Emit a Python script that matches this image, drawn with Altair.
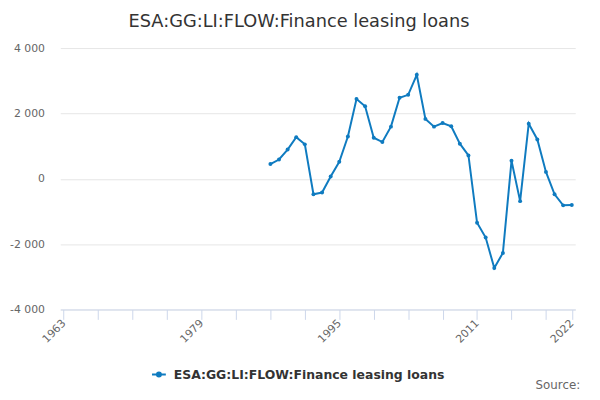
import altair as alt
import pandas as pd

series_name = "ESA:GG:LI:FLOW:Finance leasing loans"
years = list(range(1987, 2023))
values = [450, 590, 895, 1275, 1054, -473, -422, 70, 521, 1295,
          2440, 2220, 1256, 1124, 1596, 2480, 2570, 3184, 1833, 1596,
          1707, 1606, 1075, 714, -1346, -1798, -2732, -2268, 551, -684,
          1687, 1205, 211, -473, -813, -804]
x_ticks = list(range(1963, 2020, 4)) + [2022]
x_labels = [1963, 1979, 1995, 2011, 2022]
y_ticks = [-4000, -2000, 0, 2000, 4000]

BLUE = "#0f7bc0"

df = pd.DataFrame({"year": years, "value": values, "series": [series_name] * len(years)})

label_list = ",".join(str(v) for v in x_labels)

base = alt.Chart(df).encode(
    x=alt.X("year:Q",
            scale=alt.Scale(domain=[1962.6, 2022.4], nice=False, zero=False),
            axis=alt.Axis(values=x_ticks,
                          labelExpr=f"indexof([{label_list}], datum.value) >= 0 ? format(datum.value, 'd') : ''",
                          labelAngle=-45, labelAlign="right", labelBaseline="middle",
                          tickSize=10, labelPadding=2, tickColor="#ccd6eb", domainColor="#ccd6eb",
                          grid=False, title=None, labelColor="#666666", labelFontSize=11,
                          labelOverlap=False, labelFlush=False, labelBound=False)),
    y=alt.Y("value:Q",
            scale=alt.Scale(domain=[-4000, 4000], nice=False),
            axis=alt.Axis(values=y_ticks,
                          labelExpr="(datum.value < 0 ? '-' : '') + replace(format(abs(datum.value), ','), ',', ' ')",
                          domain=False, ticks=False, gridColor="#e6e6e6", title=None,
                          labelPadding=16, labelColor="#666666", labelFontSize=11)),
    color=alt.Color("series:N", scale=alt.Scale(range=[BLUE]),
                    legend=alt.Legend(title=None, orient="none", legendX=92, legendY=323,
                                      symbolType="M-1,0L1,0M-0.29,0A0.29,0.29 0 1,0 0.29,0A0.29,0.29 0 1,0 -0.29,0",
                                      symbolSize=196, symbolStrokeWidth=2, symbolFillColor=BLUE,
                                      labelFontWeight="bold", labelFontSize=12.6, labelColor="#333333",
                                      labelOffset=7, labelLimit=0, padding=0)),
)

line = base.mark_line(strokeWidth=2)
pts = base.mark_point(filled=True, size=16, opacity=1)

title_txt = alt.Chart(pd.DataFrame({"t": [series_name]})).mark_text(
    align="center", baseline="alphabetic", fontSize=18, color="#333333"
).encode(text="t:N", x=alt.value(242), y=alt.value(-21))

src = alt.Chart(pd.DataFrame({"t": ["Source:"]})).mark_text(
    align="right", baseline="alphabetic", fontSize=12, color="#666666"
).encode(text="t:N", x=alt.value(527), y=alt.value(346))

chart = alt.layer(line, pts, title_txt, src).properties(
    width=522, height=265,
    padding={"left": 53, "top": 38, "right": 17, "bottom": 81},
    autosize="none",
).configure(font="DejaVu Sans").configure_view(stroke=None)

chart.save("out.html", embed_options={"renderer": "svg", "actions": False})
